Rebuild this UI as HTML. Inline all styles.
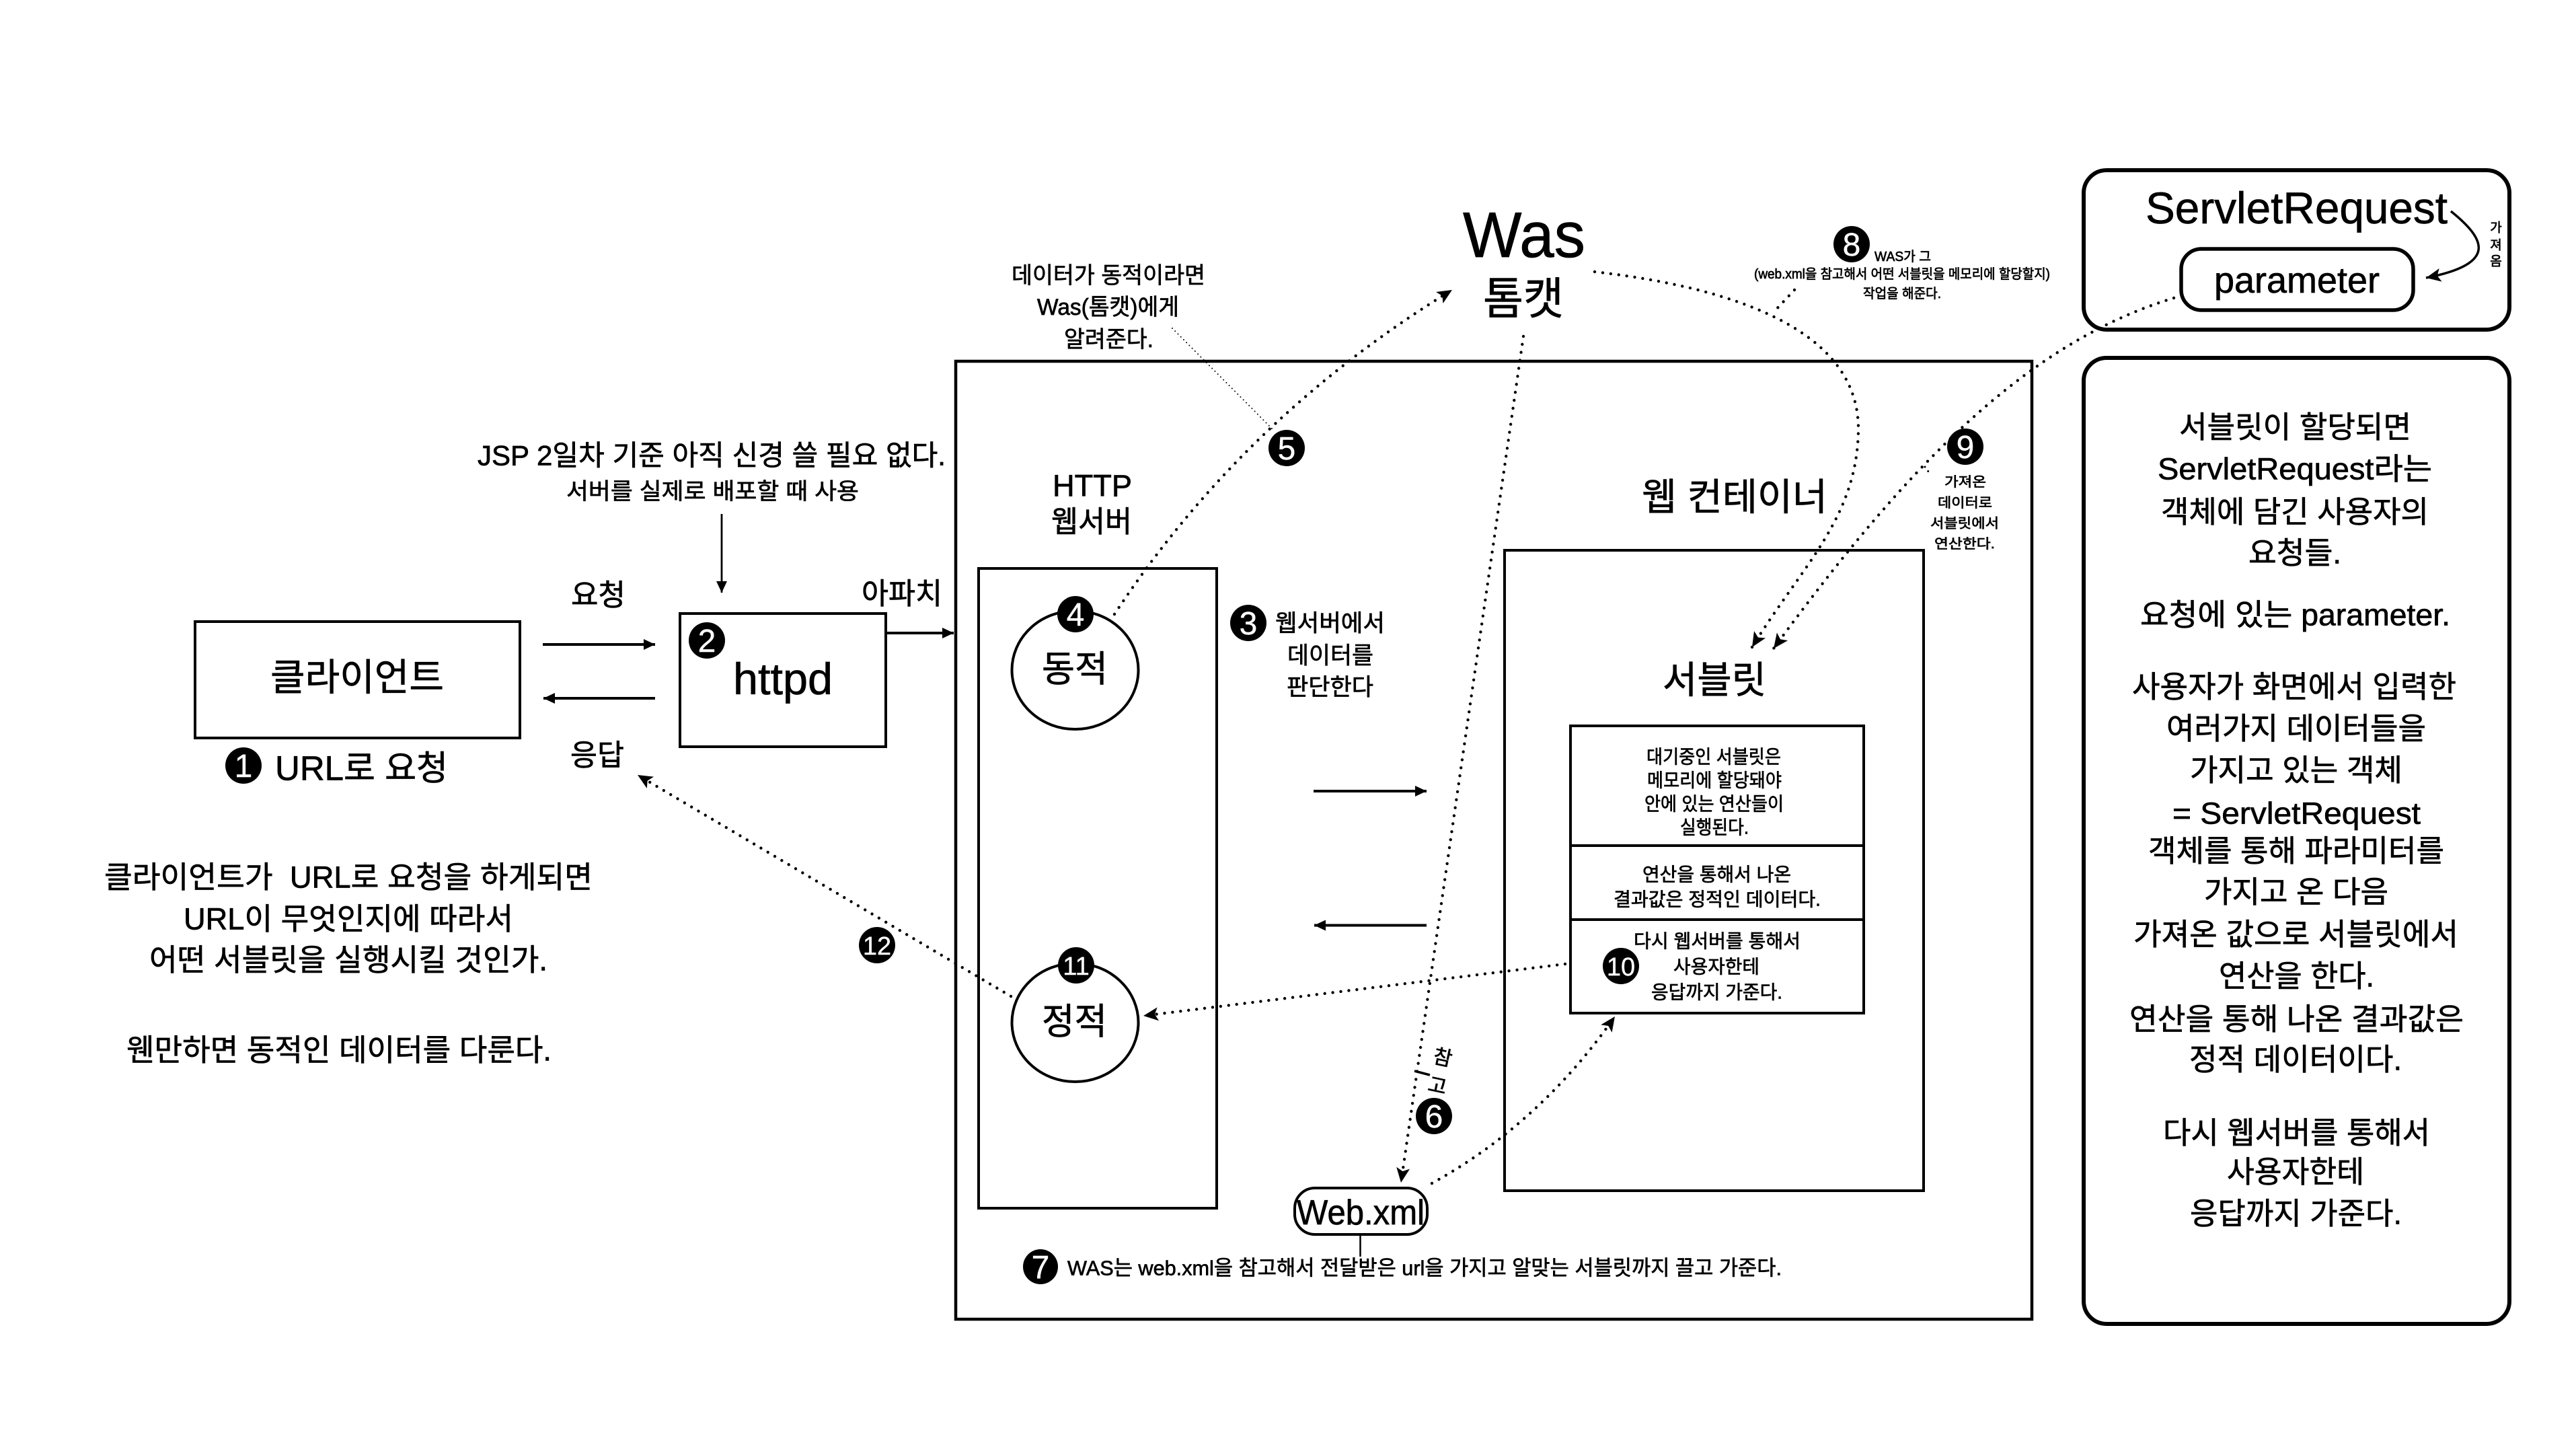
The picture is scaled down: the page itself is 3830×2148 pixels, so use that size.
<!DOCTYPE html>
<html lang="ko"><head><meta charset="utf-8"><title>Servlet diagram</title>
<style>
html,body{margin:0;padding:0;background:#fff}
svg{display:block}
text{font-family:"Liberation Sans","Noto Sans CJK KR",sans-serif;fill:#000;stroke:#000;stroke-width:.7px;white-space:pre}
.c{dominant-baseline:central;transform:translateY(2px)}
.r{dominant-baseline:central}
text.w{fill:#fff;stroke:#fff;stroke-width:.4px}
.n{fill:none;stroke:#000}
.d{fill:none;stroke:#000;stroke-width:4.4;stroke-linecap:round;stroke-dasharray:0 12}
</style></head><body>
<svg xmlns="http://www.w3.org/2000/svg" width="3830" height="2148" viewBox="0 0 3830 2148">
<defs>
<marker id="s" markerUnits="userSpaceOnUse" markerWidth="18" markerHeight="18" refX="17" refY="9" orient="auto"><path d="M17 9L0 1V17Z" fill="#000"/></marker>
<marker id="t" markerUnits="userSpaceOnUse" markerWidth="24" markerHeight="22" refX="22" refY="11" orient="auto"><path d="M22 11L0 1L5 11L0 21Z" fill="#000"/></marker>
</defs>
<rect width="3830" height="2148" fill="#fff"/>

<!-- boxes -->
<rect class="n" x="1421" y="537" width="1600" height="1424" stroke-width="4.5"/>
<rect class="n" x="1455" y="845" width="354" height="951" stroke-width="4"/>
<rect class="n" x="2237" y="818" width="623" height="952" stroke-width="4"/>
<rect class="n" x="2335" y="1079" width="436" height="427" stroke-width="4"/>
<path class="n" d="M2335 1257H2771M2335 1367H2771" stroke-width="4"/>
<rect class="n" x="290" y="924" width="483" height="173" stroke-width="4"/>
<rect class="n" x="1011" y="912" width="306" height="198" stroke-width="4"/>
<ellipse class="n" cx="1598.500" cy="996" rx="94" ry="88" stroke-width="4"/>
<ellipse class="n" cx="1598.500" cy="1520" rx="94" ry="88" stroke-width="4"/>
<rect class="n" x="1925" y="1766" width="197" height="69" rx="30" ry="30" stroke-width="4"/>
<path class="n" d="M2022.500 1835V1868" stroke-width="2.500"/>
<rect class="n" x="3098" y="253" width="633" height="237" rx="34" ry="34" stroke-width="6"/>
<rect class="n" x="3243" y="370" width="345" height="91" rx="30" ry="30" stroke-width="5.500"/>
<rect class="n" x="3098" y="532" width="633" height="1436" rx="34" ry="34" stroke-width="6"/>

<!-- solid arrows -->
<path class="n" d="M1073 764V881" stroke-width="2.800" marker-end="url(#s)"/>
<path class="n" d="M807 958H974" stroke-width="4" marker-end="url(#s)"/>
<path class="n" d="M974 1038H808" stroke-width="4" marker-end="url(#s)"/>
<path class="n" d="M1317 941H1418" stroke-width="4" marker-end="url(#s)"/>
<path class="n" d="M1953 1176H2121" stroke-width="4" marker-end="url(#s)"/>
<path class="n" d="M2121 1375.500H1954" stroke-width="4" marker-end="url(#s)"/>
<path class="n" d="M3644 314C3695 355 3715 392 3607 413" stroke-width="3.500" marker-end="url(#t)"/>
<path class="n" d="M2103 1592L2126 1598" stroke-width="3.500"/>

<!-- dotted -->
<path class="n" d="M1743 488L1894 640" stroke-width="2" stroke-linecap="round" stroke-dasharray="0 6"/>
<path class="d" d="M1657 913Q1850 620 2159 431" marker-end="url(#t)"/>
<path class="d" d="M2265 500L2083 1758" marker-end="url(#t)"/>
<path class="d" d="M2371 404C2600 430 2765 500 2763 640C2761 770 2680 840 2605 962" marker-end="url(#t)"/>
<path class="d" d="M2668 431L2637 464"/>
<path class="d" d="M3232 443C3010 510 2830 700 2637 964" marker-end="url(#t)"/>
<path class="d" d="M2327 1433L1700 1510" marker-end="url(#t)"/>
<path class="d" d="M1503 1481L948 1152" marker-end="url(#t)"/>
<path class="d" d="M2129 1759Q2290 1670 2401 1511" marker-end="url(#t)"/>
<path class="n" d="M2862 694L2870 705" stroke-width="3" stroke-linecap="round" stroke-dasharray="0 8"/>

<!-- badges -->
<g>
<circle cx="362" cy="1138" r="27"/><circle cx="1051" cy="952" r="27"/><circle cx="1856" cy="926" r="27"/><circle cx="1599" cy="913" r="27"/><circle cx="1913" cy="666" r="27"/><circle cx="2132" cy="1659" r="27"/><circle cx="1547" cy="1883" r="26"/><circle cx="2753" cy="363" r="27"/><circle cx="2922" cy="664" r="27"/><circle cx="2410" cy="1436" r="27"/><circle cx="1600" cy="1435" r="27"/><circle cx="1304" cy="1405" r="27"/>
</g>
<g font-size="48" text-anchor="middle">
<text class="w" x="362" y="1155">1</text><text class="w" x="1051" y="969">2</text><text class="w" x="1856" y="943">3</text><text class="w" x="1599" y="930">4</text><text class="w" x="1913" y="683">5</text><text class="w" x="2132" y="1676">6</text><text class="w" x="1547" y="1900">7</text><text class="w" x="2753" y="380">8</text><text class="w" x="2922" y="681">9</text>
</g>
<g font-size="38" text-anchor="middle">
<text class="w" x="2410" y="1450">10</text><text class="w" x="1600" y="1449">11</text><text class="w" x="1304" y="1419">12</text>
</g>

<!-- left -->
<text class="c" x="402" y="1005" font-size="56" textLength="258" lengthAdjust="spacingAndGlyphs">클라이언트</text>
<text x="1090" y="1032" font-size="66" textLength="148" lengthAdjust="spacingAndGlyphs">httpd</text>
<text class="c" x="409" y="1140" font-size="51" textLength="257" lengthAdjust="spacingAndGlyphs">URL로 요청</text>
<text class="c" x="710" y="675" font-size="42" textLength="696" lengthAdjust="spacingAndGlyphs">JSP 2일차 기준 아직 신경 쓸 필요 없다.</text>
<text class="c" x="842" y="729" font-size="34" textLength="435" lengthAdjust="spacingAndGlyphs">서버를 실제로 배포할 때 사용</text>
<text class="c" x="849" y="883" font-size="44" textLength="81" lengthAdjust="spacingAndGlyphs">요청</text>
<text class="c" x="1281" y="881" font-size="44" textLength="120" lengthAdjust="spacingAndGlyphs">아파치</text>
<text class="c" x="848" y="1121" font-size="44" textLength="80" lengthAdjust="spacingAndGlyphs">응답</text>
<text class="c" x="155" y="1302" font-size="45" textLength="726" lengthAdjust="spacingAndGlyphs">클라이언트가  URL로 요청을 하게되면</text>
<text class="c" x="273" y="1364" font-size="45" textLength="490" lengthAdjust="spacingAndGlyphs">URL이 무엇인지에 따라서</text>
<text class="c" x="222" y="1425" font-size="45" textLength="592" lengthAdjust="spacingAndGlyphs">어떤 서블릿을 실행시킬 것인가.</text>
<text class="c" x="188" y="1559" font-size="45" textLength="632" lengthAdjust="spacingAndGlyphs">웬만하면 동적인 데이터를 다룬다.</text>

<!-- center -->
<text x="2175" y="382" font-size="96" textLength="182" lengthAdjust="spacingAndGlyphs">Was</text>
<text class="c" x="2205" y="442" font-size="66" textLength="120" lengthAdjust="spacingAndGlyphs">톰캣</text>
<text class="c" x="1504" y="408" font-size="34" textLength="288" lengthAdjust="spacingAndGlyphs">데이터가 동적이라면</text>
<text class="c" x="1542" y="455" font-size="34" textLength="211" lengthAdjust="spacingAndGlyphs">Was(톰캣)에게</text>
<text class="c" x="1582" y="503" font-size="34" textLength="133" lengthAdjust="spacingAndGlyphs">알려준다.</text>
<text class="c" x="1565" y="720" font-size="45" textLength="118" lengthAdjust="spacingAndGlyphs">HTTP</text>
<text class="c" x="1563" y="774" font-size="44" textLength="120" lengthAdjust="spacingAndGlyphs">웹서버</text>
<text class="c" x="1549" y="993" font-size="54" textLength="98" lengthAdjust="spacingAndGlyphs">동적</text>
<text class="c" x="1549" y="1517" font-size="54" textLength="97" lengthAdjust="spacingAndGlyphs">정적</text>
<text class="c" x="1896" y="925" font-size="35" textLength="163" lengthAdjust="spacingAndGlyphs">웹서버에서</text>
<text class="c" x="1914" y="973" font-size="35" textLength="128" lengthAdjust="spacingAndGlyphs">데이터를</text>
<text class="c" x="1913" y="1020" font-size="35" textLength="129" lengthAdjust="spacingAndGlyphs">판단한다</text>
<text class="c" x="2441" y="737" font-size="56" textLength="276" lengthAdjust="spacingAndGlyphs">웹 컨테이너</text>
<text class="c" x="2472" y="1009" font-size="56" textLength="154" lengthAdjust="spacingAndGlyphs">서블릿</text>
<text x="1928" y="1820" font-size="52" textLength="190" lengthAdjust="spacingAndGlyphs">Web.xml</text>
<text class="c" x="1587" y="1883" font-size="31" textLength="1062" lengthAdjust="spacingAndGlyphs">WAS는 web.xml을 참고해서 전달받은 url을 가지고 알맞는 서블릿까지 끌고 가준다.</text>
<text class="r" font-size="30" text-anchor="middle" transform="translate(2145 1573) rotate(12)">참</text>
<text class="r" font-size="30" text-anchor="middle" transform="translate(2137 1615) rotate(12)">고</text>

<!-- servlet box text -->
<g font-size="28">
<text class="c" x="2448" y="1123" textLength="200" lengthAdjust="spacingAndGlyphs">대기중인 서블릿은</text>
<text class="c" x="2449" y="1158" textLength="200" lengthAdjust="spacingAndGlyphs">메모리에 할당돼야</text>
<text class="c" x="2445" y="1193" textLength="207" lengthAdjust="spacingAndGlyphs">안에 있는 연산들이</text>
<text class="c" x="2498" y="1228" textLength="102" lengthAdjust="spacingAndGlyphs">실행된다.</text>
<text class="c" x="2442" y="1298" textLength="221" lengthAdjust="spacingAndGlyphs">연산을 통해서 나온</text>
<text class="c" x="2399" y="1335" textLength="308" lengthAdjust="spacingAndGlyphs">결과값은 정적인 데이터다.</text>
<text class="c" x="2429" y="1397" textLength="248" lengthAdjust="spacingAndGlyphs">다시 웹서버를 통해서</text>
<text class="c" x="2488" y="1435" textLength="128" lengthAdjust="spacingAndGlyphs">사용자한테</text>
<text class="c" x="2455" y="1473" textLength="195" lengthAdjust="spacingAndGlyphs">응답까지 가준다.</text>
</g>

<!-- notes 8, 9 -->
<g font-size="20">
<text class="c" x="2787" y="380" textLength="84" lengthAdjust="spacingAndGlyphs">WAS가 그</text>
<text class="c" x="2608" y="406" textLength="440" lengthAdjust="spacingAndGlyphs">(web.xml을 참고해서 어떤 서블릿을 메모리에 할당할지)</text>
<text class="c" x="2770" y="435" textLength="116" lengthAdjust="spacingAndGlyphs">작업을 해준다.</text>
<text class="c" x="2891" y="715" textLength="62" lengthAdjust="spacingAndGlyphs">가져온</text>
<text class="c" x="2881" y="746" textLength="81" lengthAdjust="spacingAndGlyphs">데이터로</text>
<text class="c" x="2870" y="776.500" textLength="102" lengthAdjust="spacingAndGlyphs">서블릿에서</text>
<text class="c" x="2876" y="807" textLength="90" lengthAdjust="spacingAndGlyphs">연산한다.</text>
</g>

<!-- right top -->
<text x="3190" y="332" font-size="66" textLength="449" lengthAdjust="spacingAndGlyphs">ServletRequest</text>
<text x="3292" y="435" font-size="54" textLength="246" lengthAdjust="spacingAndGlyphs">parameter</text>
<g font-size="19" text-anchor="middle">
<text class="c" x="3711" y="337">가</text>
<text class="c" x="3711" y="363">져</text>
<text class="c" x="3711" y="387">옴</text>
</g>

<!-- right panel -->
<g font-size="45">
<text class="c" x="3240" y="633" textLength="345" lengthAdjust="spacingAndGlyphs">서블릿이 할당되면</text>
<text class="c" x="3208" y="695" textLength="408" lengthAdjust="spacingAndGlyphs">ServletRequest라는</text>
<text class="c" x="3213" y="759" textLength="398" lengthAdjust="spacingAndGlyphs">객체에 담긴 사용자의</text>
<text class="c" x="3343" y="820" textLength="138" lengthAdjust="spacingAndGlyphs">요청들.</text>
<text class="c" x="3182" y="912" textLength="461" lengthAdjust="spacingAndGlyphs">요청에 있는 parameter.</text>
<text class="c" x="3170" y="1019" textLength="482" lengthAdjust="spacingAndGlyphs">사용자가 화면에서 입력한</text>
<text class="c" x="3221" y="1081" textLength="386" lengthAdjust="spacingAndGlyphs">여러가지 데이터들을</text>
<text class="c" x="3256" y="1143" textLength="316" lengthAdjust="spacingAndGlyphs">가지고 있는 객체</text>
<text class="c" x="3230" y="1207" textLength="369" lengthAdjust="spacingAndGlyphs">= ServletRequest</text>
<text class="c" x="3194" y="1263" textLength="440" lengthAdjust="spacingAndGlyphs">객체를 통해 파라미터를</text>
<text class="c" x="3277" y="1324" textLength="274" lengthAdjust="spacingAndGlyphs">가지고 온 다음</text>
<text class="c" x="3172" y="1387" textLength="483" lengthAdjust="spacingAndGlyphs">가져온 값으로 서블릿에서</text>
<text class="c" x="3299" y="1449" textLength="231" lengthAdjust="spacingAndGlyphs">연산을 한다.</text>
<text class="c" x="3166" y="1513" textLength="497" lengthAdjust="spacingAndGlyphs">연산을 통해 나온 결과값은</text>
<text class="c" x="3255" y="1573" textLength="316" lengthAdjust="spacingAndGlyphs">정적 데이터이다.</text>
<text class="c" x="3216" y="1682" textLength="397" lengthAdjust="spacingAndGlyphs">다시 웹서버를 통해서</text>
<text class="c" x="3311" y="1740" textLength="204" lengthAdjust="spacingAndGlyphs">사용자한테</text>
<text class="c" x="3256" y="1802" textLength="315" lengthAdjust="spacingAndGlyphs">응답까지 가준다.</text>
</g>
</svg>
</body></html>
